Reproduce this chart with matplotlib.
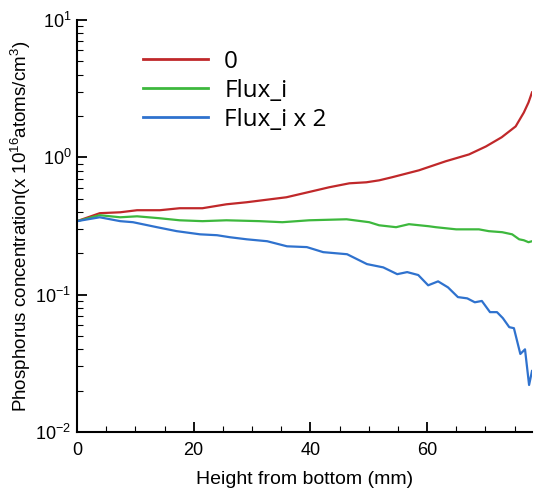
import matplotlib
matplotlib.use("Agg")
import matplotlib.pyplot as plt
from matplotlib.ticker import LogLocator, MultipleLocator, LogFormatterMathtext, NullFormatter

# Height from bottom (mm) and phosphorus concentration (x 1e16 atoms/cm^3)
h_zero = [0, 3.9, 7.4, 10.3, 14.2, 17.6, 21.5, 25.6, 29.1, 35.9, 40.3, 43.2, 46.7,
          49.6, 51.8, 54.0, 58.6, 63.2, 67.2, 70.1, 72.8, 75.2, 76.6, 77.4, 78.0]
c_zero = [0.343, 0.392, 0.398, 0.412, 0.412, 0.426, 0.426, 0.455, 0.471, 0.512, 0.566,
          0.605, 0.647, 0.658, 0.680, 0.716, 0.804, 0.936, 1.05, 1.20, 1.40, 1.68, 2.12,
          2.51, 2.97]

h_flux = [0, 3.9, 7.4, 10.3, 14.2, 17.6, 21.5, 25.6, 31.3, 35.2, 39.8, 46.2, 50.1, 51.8,
          54.7, 56.9, 60.3, 61.5, 65.0, 68.9, 70.6, 72.9, 74.6, 75.8, 76.6, 77.4, 78.0]
c_flux = [0.343, 0.379, 0.366, 0.372, 0.360, 0.348, 0.343, 0.348, 0.343, 0.337, 0.348,
          0.354, 0.337, 0.320, 0.310, 0.326, 0.315, 0.310, 0.299, 0.299, 0.290, 0.285,
          0.275, 0.253, 0.249, 0.241, 0.245]

h_flux2 = [0, 3.9, 7.4, 9.6, 13.7, 17.1, 21.1, 24.0, 26.2, 29.1, 32.6, 36.0, 39.4, 42.2,
           46.3, 49.7, 52.5, 54.9, 56.6, 58.5, 60.2, 61.9, 63.6, 65.3, 66.9, 68.2, 69.4,
           70.8, 72.0, 73.0, 74.1, 74.9, 76.0, 76.8, 77.5, 78.0]
c_flux2 = [0.343, 0.366, 0.343, 0.337, 0.310, 0.290, 0.275, 0.271, 0.262, 0.253, 0.245,
           0.225, 0.222, 0.204, 0.197, 0.167, 0.158, 0.141, 0.146, 0.139, 0.117, 0.125,
           0.113, 0.096, 0.094, 0.088, 0.090, 0.0746, 0.0746, 0.0675, 0.058, 0.057,
           0.037, 0.040, 0.022, 0.0278]

labels = ["0", "Flux_i", "Flux_i x 2"]
colors = ["#C0282A", "#3DB83D", "#2F72CE"]
x_major = [0, 20, 40, 60]

plt.rcParams["font.family"] = ["Liberation Sans", "DejaVu Sans"]
plt.rcParams["mathtext.fontset"] = "custom"
plt.rcParams["mathtext.rm"] = "Liberation Sans"
plt.rcParams["mathtext.it"] = "Liberation Sans"
plt.rcParams["mathtext.bf"] = "Liberation Sans"
plt.rcParams["axes.unicode_minus"] = False

fig = plt.figure(figsize=(5.36, 4.90), dpi=100)
ax = fig.add_axes([77 / 536, 58 / 490, 455 / 536, 412 / 490])

for h, c, lab, col in zip([h_zero, h_flux, h_flux2], [c_zero, c_flux, c_flux2], labels, colors):
    ax.plot(h, c, color=col, lw=1.6, label=lab)

ax.set_yscale("log")
ax.set_ylim(1e-2, 1e1)
ax.set_xlim(0, 78)

ax.set_xticks(x_major)
ax.xaxis.set_minor_locator(MultipleLocator(5))
ax.yaxis.set_major_locator(LogLocator(base=10, numticks=10))
ax.yaxis.set_minor_locator(LogLocator(base=10, subs=range(2, 10), numticks=20))
ax.yaxis.set_major_formatter(LogFormatterMathtext())
ax.yaxis.set_minor_formatter(NullFormatter())

for side in ["top", "right"]:
    ax.spines[side].set_visible(False)
for side in ["left", "bottom"]:
    ax.spines[side].set_linewidth(1.5)

ax.tick_params(which="major", direction="in", length=7, width=1.3, labelsize=13)
ax.tick_params(axis="x", which="major", pad=7)
ax.tick_params(axis="y", which="major", pad=4)
ax.tick_params(which="minor", direction="in", length=4, width=0.8)

ax.set_xlabel("Height from bottom (mm)", fontsize=14, labelpad=9)
ax.set_ylabel(r"Phosphorus concentration(x 10$^{16}$atoms/cm$^{3}$)", fontsize=13.5)
ax.yaxis.set_label_coords(-0.0965, 0.5)

leg = ax.legend(loc="upper left", bbox_to_anchor=(146 / 536 - 0.006, 1 - 50 / 490),
                bbox_transform=fig.transFigure, frameon=False,
                prop={"family": ["Open Sans", "DejaVu Sans"], "size": 17.5},
                handlelength=2.7, handletextpad=0.65, labelspacing=0.2,
                borderaxespad=0, borderpad=0)
for line in leg.get_lines():
    line.set_linewidth(2)

fig.savefig("out.png", dpi=100)
